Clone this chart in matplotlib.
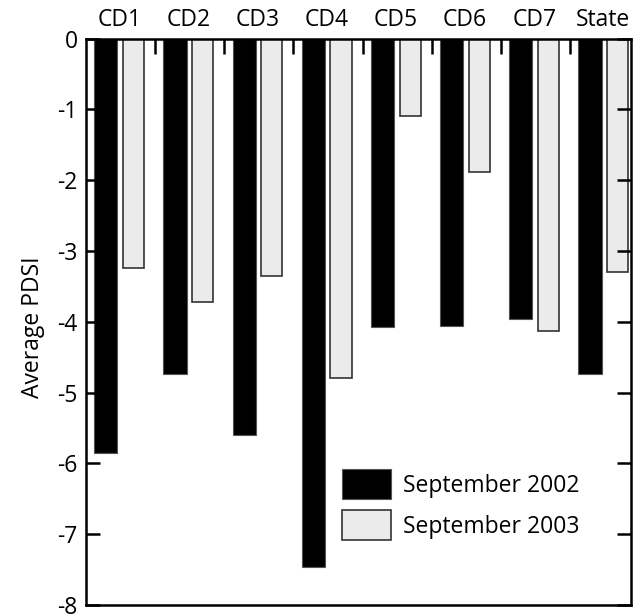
import matplotlib
matplotlib.use("Agg")
import matplotlib.pyplot as plt
import numpy as np

categories = ["CD1", "CD2", "CD3", "CD4", "CD5", "CD6", "CD7", "State"]
sep_2002 = [-5.86, -4.74, -5.60, -7.47, -4.07, -4.06, -3.96, -4.74]
sep_2003 = [-3.24, -3.72, -3.36, -4.80, -1.10, -1.89, -4.13, -3.30]
yticks = [0, -1, -2, -3, -4, -5, -6, -7, -8]

plt.rcParams['font.family'] = ['Open Sans', 'DejaVu Sans']
fs = 16.5

fig = plt.figure(figsize=(6.44, 6.15), dpi=100)
ax = fig.add_axes([86/644, 10/615, 545/644, 566.4/615])

x = np.arange(len(categories))
ax.bar(x + 0.12, sep_2002, width=0.335, align='edge', color='black',
       edgecolor='#555555', linewidth=0.8, label='September 2002')
ax.bar(x + 0.535, sep_2003, width=0.305, align='edge', color='#ebebeb',
       edgecolor='#333333', linewidth=1.2, label='September 2003')

ax.set_xlim(0, 7.88)
ax.set_ylim(-8, 0)
ax.set_yticks(yticks)
ax.set_yticklabels([str(v) for v in yticks], fontsize=fs)
ax.tick_params(axis='y', direction='in', length=10, width=1.8, left=True, right=True, pad=6)

ax.xaxis.tick_top()
ax.set_xticks(np.arange(1, len(categories)))
ax.set_xticklabels([])
ax.tick_params(axis='x', which='major', direction='in', length=11, width=1.8, top=True, bottom=False)
ax.set_xticks(x + 0.48, minor=True)
ax.set_xticklabels(categories, minor=True, fontsize=fs)
ax.tick_params(axis='x', which='minor', length=0, top=True, bottom=False, pad=5)

for s in ax.spines.values():
    s.set_linewidth(1.8)

ax.set_ylabel("Average PDSI", fontsize=fs)
ax.yaxis.set_label_coords(-0.076, 0.49)

ax.legend(loc='upper left', bbox_to_anchor=(0.47, 0.24), frameon=False, fontsize=fs,
          handlelength=2.14, handleheight=1.64, handletextpad=0.5, labelspacing=0.48,
          borderpad=0, borderaxespad=0)

fig.savefig("out.png", dpi=100)
